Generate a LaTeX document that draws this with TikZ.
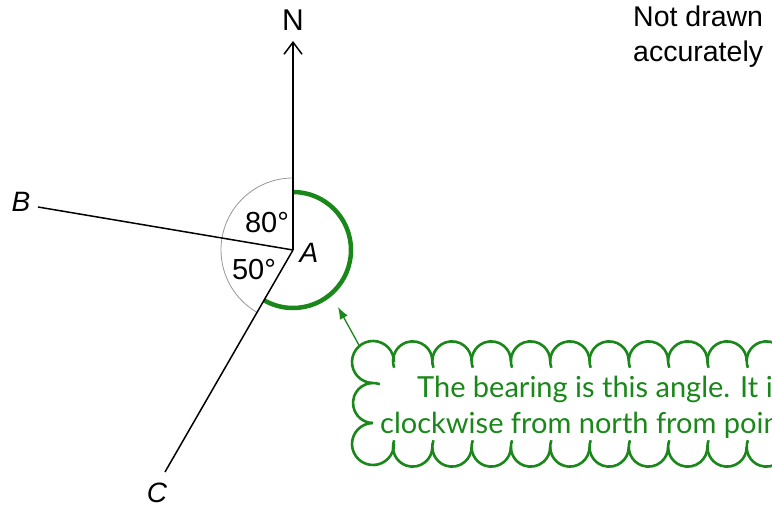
\documentclass[tikz,border=0pt]{standalone}
\usepackage{fontspec}
\setmainfont{Liberation Sans}
\newfontfamily\latofont{Lato}
\usetikzlibrary{arrows.meta}
\definecolor{bgreen}{RGB}{25,135,25}
\definecolor{arcgray}{RGB}{150,150,150}
\begin{document}
\begin{tikzpicture}[x=1pt,y=1pt,
  blackline/.style={line width=1.5pt, black},
  grayarc/.style={line width=0.8pt, arcgray},
  greenarc/.style={line width=4.5pt, bgreen},
  cloudline/.style={line width=2.6pt, bgreen},
  garrow/.style={line width=1.3pt, bgreen, -{Latex[length=12pt,width=9pt]}},
  lbl/.style={font=\fontsize{29}{34}\selectfont, inner sep=0pt},
  ilbl/.style={font=\fontsize{28}{34}\selectfont\itshape, inner sep=0pt},
  gtext/.style={font=\latofont\fontsize{29}{36}\selectfont, text=bgreen, inner sep=0pt, anchor=base west}]
\useasboundingbox (0,0) rectangle (772,507);
% points
\coordinate (A) at (293,257);
\coordinate (Ntip) at (293,466);
\coordinate (Bend) at (38,300);
\coordinate (Cend) at (165,35);
% arcs
\draw[grayarc] (A) ++(90:72) arc[start angle=90, end angle=240, radius=72];
\draw[greenarc] (A) ++(90:58) arc[start angle=90, end angle=-120, radius=58];
% lines
\draw[blackline] (A) -- (Bend);
\draw[blackline] (A) -- (Cend);
\draw[blackline, -{Straight Barb[length=12pt, width=18pt]}] (A) -- (Ntip);
% labels
\node[lbl, font=\fontsize{30}{34}\selectfont] (nlabel) at (293,487) {N};
\node[ilbl] (alabel) at (309,254) {A};
\node[ilbl] (blabel) at (21,305) {B};
\node[ilbl] (clabel) at (157,14) {C};
\node[lbl] (eighty) at (267,284.5) {80°};
\node[lbl] (fifty) at (254,237) {50°};
\node[lbl, anchor=north west, align=left, font=\fontsize{28.5}{35}\selectfont] (note) at (633,501) {Not drawn\\accurately};
% cloud callout
\begin{scope}
\clip (0,0) rectangle (772,507);
\foreach \k in {0,...,10} {
  \pgfmathsetmacro\cx{393+19.65+39.3*\k}
  \draw[cloudline] (\cx,146) ++(200:19.65) arc[start angle=200, end angle=0, radius=19.65];
  \draw[cloudline] (\cx,60) ++(160:19.65) arc[start angle=160, end angle=360, radius=19.65];
}
\draw[cloudline] (373,145) ++(268:21) arc[start angle=268, end angle=0, radius=21];
\draw[cloudline] (373,63) ++(92:21) arc[start angle=92, end angle=360, radius=21];
\draw[cloudline] (373,104) ++(70:20) arc[start angle=70, end angle=270, radius=20];
\node[gtext] (line1) at (417,110) {The bearing is this angle. It is};
\node[gtext] (line2) at (380,74) {clockwise from north from point};
\end{scope}
\coordinate (ctail) at (360,160);
\coordinate (ctip) at (338,200);
\draw[garrow] (ctail) -- (ctip);
\end{tikzpicture}
\end{document}
